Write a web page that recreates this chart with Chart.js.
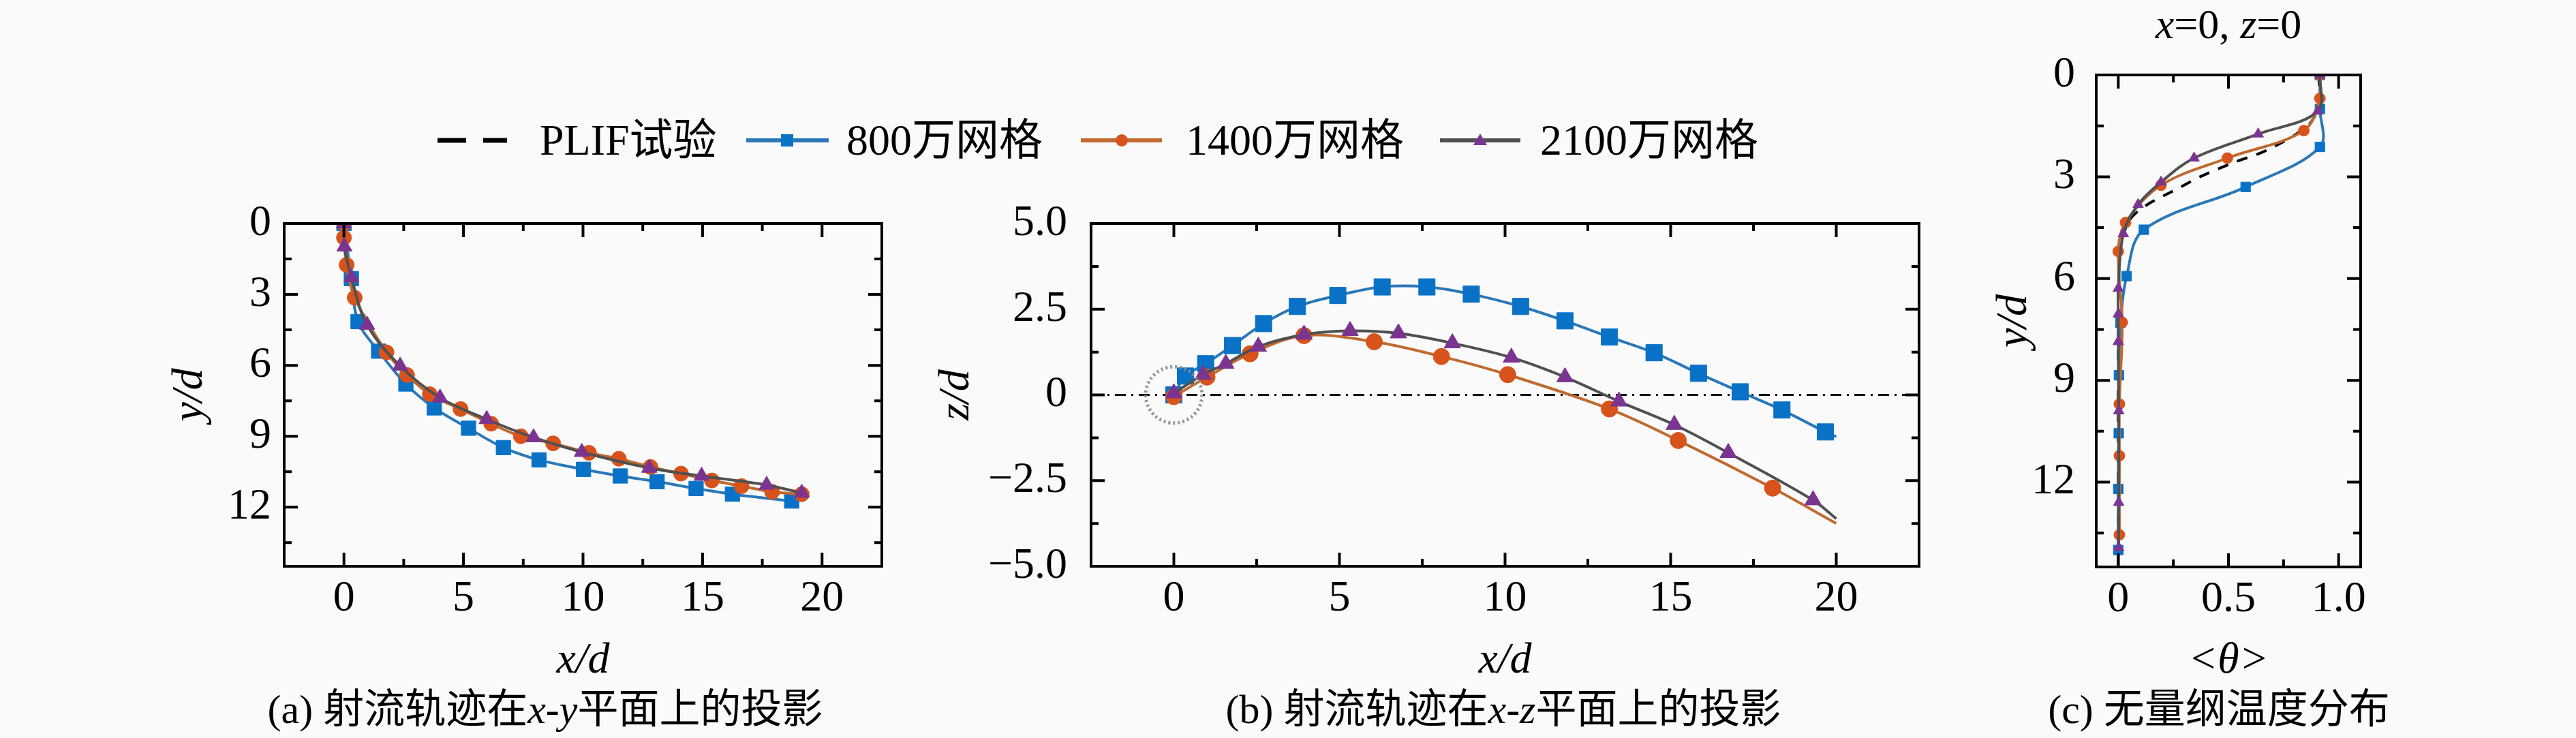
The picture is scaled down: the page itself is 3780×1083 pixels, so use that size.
<!DOCTYPE html>
<html>
<head>
<meta charset="utf-8">
<script src="https://cdn.jsdelivr.net/npm/chart.js@4.4.0/dist/chart.umd.min.js"></script>
<style>
  html,body{margin:0;padding:0;background:#fafafa;}
  body{width:3780px;height:1083px;position:relative;overflow:hidden;
       font-family:"Liberation Serif","Noto Sans CJK SC",serif;color:#000;}
  canvas{position:absolute;}
  .txt{position:absolute;white-space:nowrap;}
  .cap{font-size:60px;line-height:70px;text-align:center;width:1200px;}
  .leg{position:absolute;top:166px;height:80px;line-height:80px;font-size:64px;white-space:nowrap;}
  .sym{position:absolute;top:196px;}
</style>
</head>
<body>
<canvas id="cA"></canvas>
<canvas id="cB"></canvas>
<canvas id="cC"></canvas>

<!-- legend -->
<svg class="sym" style="left:642px" width="104" height="20"><line x1="0" y1="10" x2="42" y2="10" stroke="#000" stroke-width="7"/><line x1="67" y1="10" x2="102" y2="10" stroke="#000" stroke-width="7"/></svg>
<div class="leg" style="left:792px">PLIF试验</div>
<svg class="sym" style="left:1095px" width="122" height="20"><line x1="0" y1="10" x2="121" y2="10" stroke="#2a78b8" stroke-width="6"/><rect x="51" y="1" width="18" height="18" fill="#0a72c6"/></svg>
<div class="leg" style="left:1242px">800万网格</div>
<svg class="sym" style="left:1586px" width="120" height="20"><line x1="0" y1="10" x2="119" y2="10" stroke="#c06a30" stroke-width="6"/><circle cx="60" cy="10" r="9" fill="#d8531c"/></svg>
<div class="leg" style="left:1740px">1400万网格</div>
<svg class="sym" style="left:2113px" width="120" height="20"><line x1="0" y1="10" x2="118" y2="10" stroke="#505050" stroke-width="6"/><polygon points="59,0 69,17 49,17" fill="#7b3590"/></svg>
<div class="leg" style="left:2260px">2100万网格</div>

<!-- panel title (c) -->
<div class="txt" style="left:3070px;width:400px;text-align:center;top:0px;font-size:62px;line-height:70px;"><i>x</i>=0, <i>z</i>=0</div>

<!-- captions -->
<div class="txt cap" style="left:200px;top:1006px;">(a) 射流轨迹在<i>x</i>-<i>y</i>平面上的投影</div>
<div class="txt cap" style="left:1606px;top:1006px;">(b) 射流轨迹在<i>x</i>-<i>z</i>平面上的投影</div>
<div class="txt cap" style="left:2656px;top:1006px;">(c) 无量纲温度分布</div>

<script>
// ---------------- tick values / labels ----------------
const TICKS_A_X = [0, 5, 10, 15, 20];
const LABELS_A_X = ['0', '5', '10', '15', '20'];
const TICKS_A_Y = [0, 3, 6, 9, 12];
const LABELS_A_Y = ['0', '3', '6', '9', '12'];
const TICKS_B_X = [0, 5, 10, 15, 20];
const LABELS_B_X = ['0', '5', '10', '15', '20'];
const TICKS_B_Y = [-5, -2.5, 0, 2.5, 5];
const LABELS_B_Y = ['\u22125.0', '\u22122.5', '0', '2.5', '5.0'];
const TICKS_C_X = [0, 0.5, 1.0];
const LABELS_C_X = ['0', '0.5', '1.0'];
const TICKS_C_Y = [0, 3, 6, 9, 12];
const LABELS_C_Y = ['0', '3', '6', '9', '12'];

const SERIES_NAMES = ['PLIF试验', '800万网格', '1400万网格', '2100万网格'];

// ---------------- (a) x-y projection ----------------
const A_800_X  = [0, 0.31, 0.59, 1.45, 2.59, 3.78, 5.21, 6.67, 8.16, 10.02, 11.56, 13.1, 14.73, 16.25, 18.73];
const A_800_Y  = [0, 2.33, 4.15, 5.40, 6.79, 7.80, 8.66, 9.48, 10.0, 10.40, 10.68, 10.92, 11.21, 11.45, 11.74];
const A_1400_X = [0, 0.0, 0.11, 0.45, 1.78, 2.64, 3.59, 4.88, 6.16, 7.40, 8.75, 10.25, 11.50, 12.82, 14.10, 15.39, 16.63, 17.91, 19.15];
const A_1400_Y = [0, 0.6, 1.75, 3.14, 5.45, 6.41, 7.22, 7.85, 8.47, 9.00, 9.30, 9.70, 9.95, 10.30, 10.58, 10.87, 11.11, 11.35, 11.45];
const A_2100_X = [0, 0.02, 0.31, 0.97, 2.35, 4.02, 5.97, 7.93, 9.95, 12.77, 14.96, 17.68, 19.15];
const A_2100_Y = [0, 0.98, 2.28, 4.29, 6.02, 7.37, 8.28, 9.05, 9.67, 10.34, 10.68, 11.06, 11.40];

// ---------------- (b) x-z projection ----------------
const B_800_X  = [0, 0.35, 0.96, 1.77, 2.71, 3.73, 4.95, 6.29, 7.64, 8.98, 10.47, 11.81, 13.15, 14.50, 15.84, 17.10, 18.36, 19.67, 20.0];
const B_800_Z  = [0, 0.55, 0.91, 1.44, 2.08, 2.58, 2.90, 3.15, 3.15, 2.94, 2.58, 2.16, 1.69, 1.23, 0.63, 0.09, -0.44, -1.08, -1.22];
const B_1400_X = [0, 1.00, 2.30, 3.93, 6.05, 8.08, 10.08, 13.15, 15.23, 18.08, 20.0];
const B_1400_Z = [-0.05, 0.52, 1.20, 1.73, 1.55, 1.12, 0.59, -0.41, -1.33, -2.72, -3.75];
const B_2100_X = [0, 0.88, 1.57, 2.55, 3.93, 5.32, 6.78, 8.41, 10.19, 11.81, 13.44, 15.11, 16.74, 19.30, 20.0];
const B_2100_Z = [0.05, 0.59, 0.91, 1.41, 1.76, 1.87, 1.80, 1.51, 1.09, 0.52, -0.19, -0.87, -1.69, -3.07, -3.61];
const B_REF_X  = [-2.5, 22.5];
const B_REF_Z  = [0, 0];
const B_CIRCLE = {x: 0, y: 0, r: 0.85};

// ---------------- (c) temperature profile at x=0, z=0 ----------------
const C_PLIF_T = [0.91, 0.91, 0.86, 0.67, 0.52, 0.375, 0.246, 0.127, 0.054, 0.015, 0.003, 0.0, 0.0];
const C_PLIF_Y = [0, 0.9, 1.5, 2.23, 2.59, 2.99, 3.43, 3.84, 4.25, 4.9, 5.8, 8.0, 14.5];
const C_800_T  = [0.915, 0.915, 0.915, 0.578, 0.116, 0.038, 0.010, 0.003, 0.002, 0.0, 0.0];
const C_800_Y  = [0, 1.0, 2.12, 3.30, 4.56, 5.93, 7.30, 8.85, 10.56, 12.2, 14.0];
const C_1400_T = [0.915, 0.915, 0.842, 0.495, 0.194, 0.033, 0.0, 0.018, 0.005, 0.005, 0.005];
const C_1400_Y = [0, 0.69, 1.64, 2.45, 3.25, 4.35, 5.20, 7.29, 9.70, 11.22, 13.55];
const C_2100_T = [0.915, 0.905, 0.635, 0.344, 0.194, 0.090, 0.023, 0.0, 0.0, 0.0, 0.002, 0.002, 0.002];
const C_2100_Y = [0, 1.07, 1.74, 2.45, 3.16, 3.82, 4.68, 6.29, 7.05, 7.86, 9.90, 12.60, 13.93];

// ---------------- styling ----------------
const FAMILY = '"Liberation Serif", "Noto Sans CJK SC", serif';
const C_BLUE_LINE = '#2a78b8', C_BLUE = '#0a72c6';
const C_ORG_LINE = '#c06a30', C_ORG = '#d8531c';
const C_GRAY_LINE = '#505050', C_PUR = '#7b3590';

const zip = (xs, ys) => xs.map((x, i) => ({x, y: ys[i]}));

// box + inward ticks on all four sides
const boxTicks = {
  id: 'boxTicks',
  afterDraw(chart, args, o) {
    const {ctx, chartArea: a} = chart;
    const xs = chart.scales.x, ys = chart.scales.y;
    const minors = (scale, majors, step) => {
      const out = [];
      const n0 = Math.ceil(scale.min / step - 1e-9), n1 = Math.floor(scale.max / step + 1e-9);
      for (let n = n0; n <= n1; n++) {
        const v = n * step;
        if (!majors.some(m => Math.abs(m - v) < 1e-9)) out.push(v);
      }
      return out;
    };
    ctx.save();
    ctx.strokeStyle = '#000';
    ctx.lineWidth = 4;
    const xt = (vals, len) => vals.forEach(v => {
      const p = xs.getPixelForValue(v);
      ctx.beginPath();
      ctx.moveTo(p, a.bottom); ctx.lineTo(p, a.bottom - len);
      ctx.moveTo(p, a.top); ctx.lineTo(p, a.top + len);
      ctx.stroke();
    });
    const yt = (vals, len) => vals.forEach(v => {
      const p = ys.getPixelForValue(v);
      ctx.beginPath();
      ctx.moveTo(a.left, p); ctx.lineTo(a.left + len, p);
      ctx.moveTo(a.right, p); ctx.lineTo(a.right - len, p);
      ctx.stroke();
    });
    xt(o.xMajor, 20); xt(minors(xs, o.xMajor, o.xMinor), 11);
    yt(o.yMajor, 20); yt(minors(ys, o.yMajor, o.yMinor), 11);
    ctx.lineWidth = 4;
    ctx.strokeRect(a.left, a.top, a.right - a.left, a.bottom - a.top);
    ctx.restore();
  }
};

// dotted circle marking the jet origin in (b)
const originCircle = {
  id: 'originCircle',
  afterDatasetsDraw(chart, args, o) {
    if (!o || !o.enabled) return;
    const {ctx} = chart;
    const xs = chart.scales.x, ys = chart.scales.y;
    const cx = xs.getPixelForValue(o.x), cy = ys.getPixelForValue(o.y);
    const r = Math.abs(xs.getPixelForValue(o.x + o.r) - cx);
    ctx.save();
    ctx.strokeStyle = 'rgba(140,140,140,0.9)';
    ctx.lineWidth = 5;
    ctx.setLineDash([3, 4]);
    ctx.beginPath(); ctx.arc(cx, cy, r, 0, Math.PI * 2); ctx.stroke();
    ctx.restore();
  }
};

function series(label, pts, line, mark, style, r, opts) {
  return Object.assign({
    label, data: pts, showLine: true,
    borderColor: line, borderWidth: 4, tension: 0.35,
    pointStyle: style, pointRadius: r, pointHoverRadius: r,
    pointBackgroundColor: mark, pointBorderColor: mark, pointBorderWidth: 1,
  }, opts || {});
}

function axis(min, max, ticks, labels, title, size, pad, reverse) {
  return {
    type: 'linear', min, max, reverse: !!reverse,
    afterBuildTicks: s => { s.ticks = ticks.map(v => ({value: v})); },
    ticks: {
      font: {family: FAMILY, size: 64}, color: '#000', padding: pad,
      callback: (v) => { const i = ticks.findIndex(t => Math.abs(t - v) < 1e-9); return i >= 0 ? labels[i] : ''; }
    },
    grid: {display: false, drawTicks: false},
    border: {display: false},
    title: {display: true, text: title, color: '#000', padding: 0,
            font: {family: FAMILY, size: 64, style: 'italic'}},
    afterFit: s => {
      if (s.isHorizontal()) { s.height = size; s.paddingLeft = 0; s.paddingRight = 0; }
      else { s.width = size; s.paddingTop = 0; s.paddingBottom = 0; }
    }
  };
}

function makeChart(id, left, top, width, height, pad, datasets, xAxis, yAxis, tickOpts, extra) {
  const cv = document.getElementById(id);
  cv.style.left = left + 'px'; cv.style.top = top + 'px';
  cv.width = width; cv.height = height;
  cv.style.width = width + 'px'; cv.style.height = height + 'px';
  return new Chart(cv, {
    type: 'scatter',
    data: {datasets},
    options: {
      responsive: false, animation: false, devicePixelRatio: 1,
      layout: {padding: pad},
      plugins: Object.assign({legend: {display: false}, tooltip: {enabled: false}, boxTicks: tickOpts}, extra || {}),
      scales: {x: xAxis, y: yAxis}
    },
    plugins: [boxTicks, originCircle]
  });
}

// ---- (a)  plot area ~ 417..1294 x 328..831
makeChart('cA', 241, 283, 1083, 726, {top: 45, right: 30, left: 0, bottom: 0}, [
  series(SERIES_NAMES[3], zip(A_2100_X, A_2100_Y), C_GRAY_LINE, C_PUR, 'triangle', 13),
  series(SERIES_NAMES[2], zip(A_1400_X, A_1400_Y), C_ORG_LINE, C_ORG, 'circle', 11),
  series(SERIES_NAMES[1], zip(A_800_X, A_800_Y), C_BLUE_LINE, C_BLUE, 'rect', 15),
],
  axis(-2.5, 22.5, TICKS_A_X, LABELS_A_X, 'x/d', 178, 10),
  axis(0, 14.5, TICKS_A_Y, LABELS_A_Y, 'y/d', 176, 19, true),
  {xMajor: TICKS_A_X, xMinor: 2.5, yMajor: TICKS_A_Y, yMinor: 1.5});

// ---- (b)  plot area ~ 1601..2816 x 328..831
const noLastMarker = r => (c => c.dataIndex === c.dataset.data.length - 1 ? 0 : r);
makeChart('cB', 1366, 283, 1480, 726, {top: 45, right: 30, left: 0, bottom: 0}, [
  series(SERIES_NAMES[3], zip(B_2100_X, B_2100_Z), C_GRAY_LINE, C_PUR, 'triangle', 14, {pointRadius: noLastMarker(14)}),
  series(SERIES_NAMES[2], zip(B_1400_X, B_1400_Z), C_ORG_LINE, C_ORG, 'circle', 12, {pointRadius: noLastMarker(12)}),
  series(SERIES_NAMES[1], zip(B_800_X, B_800_Z), C_BLUE_LINE, C_BLUE, 'rect', 17, {pointRadius: noLastMarker(17)}),
  {label: 'z=0', data: zip(B_REF_X, B_REF_Z), showLine: true, borderColor: '#111', borderWidth: 3,
   borderDash: [16, 8, 3, 8], pointRadius: 0, tension: 0},
],
  axis(-2.5, 22.5, TICKS_B_X, LABELS_B_X, 'x/d', 178, 10),
  axis(-5, 5, TICKS_B_Y, LABELS_B_Y, 'z/d', 235, 35),
  {xMajor: TICKS_B_X, xMinor: 2.5, yMajor: TICKS_B_Y, yMinor: 1.25},
  {originCircle: Object.assign({enabled: true}, B_CIRCLE)});

// ---- (c)  plot area ~ 3076..3464 x 110..832
makeChart('cC', 2918, 65, 586, 944, {top: 45, right: 40, left: 0, bottom: 0}, [
  series(SERIES_NAMES[3], zip(C_2100_T, C_2100_Y), C_GRAY_LINE, C_PUR, 'triangle', 9),
  series(SERIES_NAMES[2], zip(C_1400_T, C_1400_Y), C_ORG_LINE, C_ORG, 'circle', 8),
  series(SERIES_NAMES[1], zip(C_800_T, C_800_Y), C_BLUE_LINE, C_BLUE, 'rect', 10),
  {label: SERIES_NAMES[0], data: zip(C_PLIF_T, C_PLIF_Y), showLine: true, borderColor: '#000', borderWidth: 4,
   borderDash: [16, 14], pointRadius: 0, tension: 0.3},
],
  axis(-0.1, 1.1, TICKS_C_X, LABELS_C_X, '<θ>', 177, 10),
  axis(0, 14.5, TICKS_C_Y, LABELS_C_Y, 'y/d', 158, 31, true),
  {xMajor: TICKS_C_X, xMinor: 0.25, yMajor: TICKS_C_Y, yMinor: 1.5});
</script>
</body>
</html>
